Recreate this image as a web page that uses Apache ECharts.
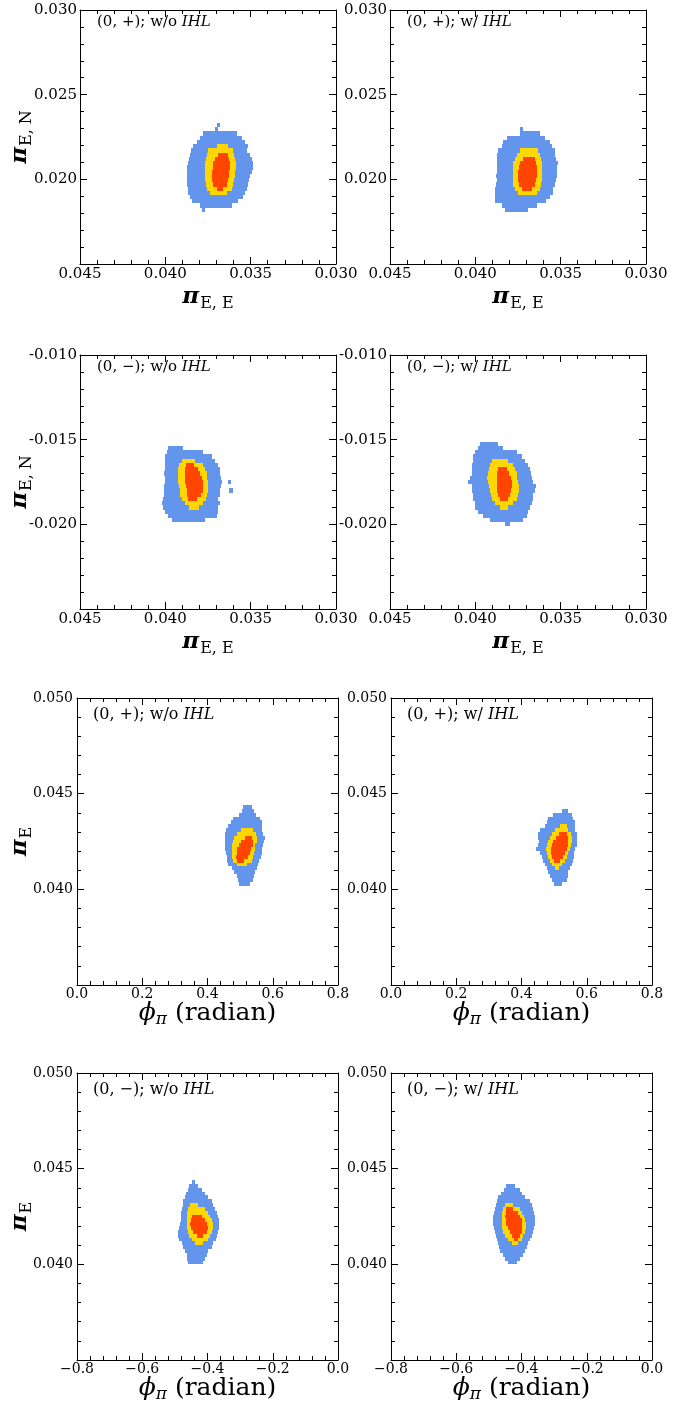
<!DOCTYPE html>
<html>
<head>
<meta charset="utf-8">
<title>Parallax posteriors</title>
<script src="https://cdn.jsdelivr.net/npm/echarts@6/dist/echarts.min.js"></script>
<style>
  html, body { margin: 0; padding: 0; background: #fff; }
  #chart { width: 694px; height: 1409px; }
</style>
</head>
<body>
<div id="chart"></div>
<script>
'use strict';

/* Tick values of the axes */
const enTicksX = [0.045, 0.040, 0.035, 0.030];
const enPlusTicksY = [0.015, 0.020, 0.025, 0.030];
const enMinusTicksY = [-0.025, -0.020, -0.015, -0.010];
const phiPlusTicksX = [0.0, 0.2, 0.4, 0.6, 0.8];
const phiMinusTicksX = [-0.8, -0.6, -0.4, -0.2, 0.0];
const piETicksY = [0.035, 0.040, 0.045, 0.050];

/* Posterior cells, one row per entry: [y, x at one end, x at other end].
   blue = 3 sigma, yellow = 2 sigma, red = 1 sigma */

// (0,+) w/o IHL, pi_E,N vs pi_E,E
const enPlusWoBlue = [
  [0.02320, 0.03700, 0.03680], [0.02295, 0.03709, 0.03690], [0.02270, 0.03778, 0.03582],
  [0.02245, 0.03797, 0.03553], [0.02220, 0.03817, 0.03534], [0.02195, 0.03840, 0.03514],
  [0.02170, 0.03852, 0.03520], [0.02145, 0.03856, 0.03504], [0.02120, 0.03860, 0.03495],
  [0.02095, 0.03866, 0.03489], [0.02070, 0.03871, 0.03489], [0.02045, 0.03875, 0.03495],
  [0.02020, 0.03875, 0.03504], [0.01995, 0.03871, 0.03508], [0.01970, 0.03875, 0.03514],
  [0.01945, 0.03866, 0.03520], [0.01920, 0.03866, 0.03534], [0.01895, 0.03856, 0.03547],
  [0.01870, 0.03846, 0.03573], [0.01845, 0.03797, 0.03612], [0.01820, 0.03787, 0.03768]
];
const enPlusWoYellow = [
  [0.02195, 0.03700, 0.03631], [0.02170, 0.03748, 0.03602], [0.02145, 0.03758, 0.03596],
  [0.02120, 0.03762, 0.03592], [0.02095, 0.03768, 0.03588], [0.02070, 0.03768, 0.03588],
  [0.02045, 0.03768, 0.03592], [0.02020, 0.03768, 0.03592], [0.01995, 0.03768, 0.03596],
  [0.01970, 0.03762, 0.03602], [0.01945, 0.03754, 0.03612], [0.01920, 0.03739, 0.03641]
];
const enPlusWoRed = [
  [0.02145, 0.03690, 0.03631], [0.02120, 0.03709, 0.03625], [0.02095, 0.03719, 0.03621],
  [0.02070, 0.03723, 0.03621], [0.02045, 0.03725, 0.03625], [0.02020, 0.03725, 0.03625],
  [0.01995, 0.03725, 0.03631], [0.01970, 0.03719, 0.03641], [0.01945, 0.03700, 0.03661]
];

// (0,+) w/ IHL
const enPlusWBlue = [
  [0.02295, 0.03738, 0.03719], [0.02270, 0.03738, 0.03621], [0.02245, 0.03816, 0.03592],
  [0.02220, 0.03836, 0.03562], [0.02195, 0.03845, 0.03553], [0.02170, 0.03865, 0.03533],
  [0.02145, 0.03875, 0.03533], [0.02120, 0.03875, 0.03527], [0.02095, 0.03875, 0.03513],
  [0.02070, 0.03875, 0.03519], [0.02045, 0.03875, 0.03519], [0.02020, 0.03879, 0.03523],
  [0.01995, 0.03875, 0.03527], [0.01970, 0.03879, 0.03533], [0.01945, 0.03885, 0.03543],
  [0.01920, 0.03885, 0.03547], [0.01895, 0.03885, 0.03562], [0.01870, 0.03885, 0.03586],
  [0.01845, 0.03845, 0.03640], [0.01820, 0.03826, 0.03689]
];
const enPlusWYellow = [
  [0.02170, 0.03738, 0.03631], [0.02145, 0.03758, 0.03621], [0.02120, 0.03767, 0.03617],
  [0.02095, 0.03777, 0.03611], [0.02070, 0.03781, 0.03611], [0.02045, 0.03781, 0.03611],
  [0.02020, 0.03781, 0.03611], [0.01995, 0.03781, 0.03611], [0.01970, 0.03777, 0.03617],
  [0.01945, 0.03767, 0.03621], [0.01920, 0.03748, 0.03640]
];
const enPlusWRed = [
  [0.02120, 0.03719, 0.03650], [0.02095, 0.03738, 0.03644], [0.02070, 0.03742, 0.03640],
  [0.02045, 0.03748, 0.03640], [0.02020, 0.03748, 0.03640], [0.01995, 0.03748, 0.03644],
  [0.01970, 0.03742, 0.03650], [0.01945, 0.03728, 0.03670]
];

// (0,-) w/o IHL
const enMinusWoBlue = [
  [-0.01550, 0.03983, 0.03895], [-0.01575, 0.03992, 0.03777], [-0.01600, 0.04002, 0.03729],
  [-0.01625, 0.04002, 0.03709], [-0.01650, 0.04002, 0.03690], [-0.01675, 0.04002, 0.03680],
  [-0.01700, 0.04008, 0.03680], [-0.01725, 0.04002, 0.03676], [-0.01750, 0.04002, 0.03670],
  [-0.01775, 0.04008, 0.03676], [-0.01800, 0.04008, 0.03680], [-0.01825, 0.04008, 0.03680],
  [-0.01850, 0.04012, 0.03690], [-0.01875, 0.04022, 0.03680], [-0.01900, 0.04012, 0.03690],
  [-0.01925, 0.04002, 0.03690], [-0.01950, 0.03983, 0.03699], [-0.01975, 0.03963, 0.03768],
  [-0.01750, 0.03633, 0.03615], [-0.01800, 0.03627, 0.03606]
];
const enMinusWoYellow = [
  [-0.01625, 0.03904, 0.03826], [-0.01650, 0.03918, 0.03777], [-0.01675, 0.03924, 0.03768],
  [-0.01700, 0.03924, 0.03758], [-0.01725, 0.03924, 0.03754], [-0.01750, 0.03924, 0.03748],
  [-0.01775, 0.03918, 0.03748], [-0.01800, 0.03914, 0.03748], [-0.01825, 0.03914, 0.03754],
  [-0.01850, 0.03904, 0.03762], [-0.01875, 0.03885, 0.03777], [-0.01900, 0.03860, 0.03801]
];
const enMinusWoRed = [
  [-0.01650, 0.03879, 0.03832], [-0.01675, 0.03885, 0.03807], [-0.01700, 0.03885, 0.03797],
  [-0.01725, 0.03885, 0.03787], [-0.01750, 0.03885, 0.03781], [-0.01775, 0.03879, 0.03781],
  [-0.01800, 0.03875, 0.03781], [-0.01825, 0.03875, 0.03793], [-0.01850, 0.03865, 0.03817]
];

// (0,-) w/ IHL
const enMinusWBlue = [
  [-0.01525, 0.03973, 0.03865], [-0.01550, 0.03983, 0.03836], [-0.01575, 0.04002, 0.03758],
  [-0.01600, 0.04016, 0.03729], [-0.01625, 0.04012, 0.03709], [-0.01650, 0.04022, 0.03690],
  [-0.01675, 0.04022, 0.03680], [-0.01700, 0.04022, 0.03676], [-0.01725, 0.04031, 0.03670],
  [-0.01750, 0.04041, 0.03660], [-0.01775, 0.04022, 0.03645], [-0.01800, 0.04022, 0.03651],
  [-0.01825, 0.04012, 0.03660], [-0.01850, 0.04012, 0.03660], [-0.01875, 0.04002, 0.03670],
  [-0.01900, 0.04002, 0.03680], [-0.01925, 0.03983, 0.03690], [-0.01950, 0.03953, 0.03699],
  [-0.01975, 0.03914, 0.03719], [-0.02000, 0.03826, 0.03797]
];
const enMinusWYellow = [
  [-0.01625, 0.03904, 0.03807], [-0.01650, 0.03914, 0.03777], [-0.01675, 0.03918, 0.03768],
  [-0.01700, 0.03924, 0.03758], [-0.01725, 0.03930, 0.03754], [-0.01750, 0.03924, 0.03748],
  [-0.01775, 0.03918, 0.03742], [-0.01800, 0.03914, 0.03742], [-0.01825, 0.03910, 0.03748],
  [-0.01850, 0.03904, 0.03758], [-0.01875, 0.03885, 0.03777], [-0.01900, 0.03856, 0.03807]
];
const enMinusWRed = [
  [-0.01675, 0.03865, 0.03817], [-0.01700, 0.03871, 0.03801], [-0.01725, 0.03875, 0.03793],
  [-0.01750, 0.03875, 0.03787], [-0.01775, 0.03875, 0.03787], [-0.01800, 0.03871, 0.03793],
  [-0.01825, 0.03865, 0.03797], [-0.01850, 0.03856, 0.03807]
];

// (0,+) w/o IHL, pi_E vs phi_pi
const phiPlusWoBlue = [
  [0.0443, 0.510, 0.535], [0.0441, 0.505, 0.543], [0.0439, 0.498, 0.549], [0.0437, 0.479, 0.561],
  [0.0435, 0.471, 0.566], [0.0433, 0.464, 0.566], [0.0431, 0.457, 0.567], [0.0429, 0.454, 0.571],
  [0.0427, 0.454, 0.576], [0.0425, 0.454, 0.574], [0.0423, 0.454, 0.571], [0.0421, 0.454, 0.566],
  [0.0419, 0.457, 0.566], [0.0417, 0.459, 0.563], [0.0415, 0.461, 0.559], [0.0413, 0.464, 0.556],
  [0.0411, 0.474, 0.551], [0.0409, 0.481, 0.547], [0.0407, 0.489, 0.543], [0.0405, 0.495, 0.540],
  [0.0403, 0.498, 0.530]
];
const phiPlusWoYellow = [
  [0.0431, 0.502, 0.538], [0.0429, 0.489, 0.549], [0.0427, 0.481, 0.551], [0.0425, 0.477, 0.551],
  [0.0423, 0.474, 0.547], [0.0421, 0.474, 0.546], [0.0419, 0.474, 0.543], [0.0417, 0.476, 0.538],
  [0.0415, 0.479, 0.535], [0.0413, 0.489, 0.522]
];
const phiPlusWoRed = [
  [0.0427, 0.515, 0.535], [0.0425, 0.504, 0.540], [0.0423, 0.498, 0.538], [0.0421, 0.491, 0.534],
  [0.0419, 0.489, 0.530], [0.0417, 0.487, 0.523], [0.0415, 0.491, 0.512]
];

// (0,+) w/ IHL
const phiPlusWBlue = [
  [0.0441, 0.523, 0.544], [0.0439, 0.498, 0.554], [0.0437, 0.482, 0.559], [0.0435, 0.477, 0.564],
  [0.0433, 0.472, 0.564], [0.0431, 0.457, 0.564], [0.0429, 0.452, 0.569], [0.0427, 0.452, 0.569],
  [0.0425, 0.454, 0.569], [0.0423, 0.452, 0.569], [0.0421, 0.444, 0.564], [0.0419, 0.457, 0.562],
  [0.0417, 0.462, 0.562], [0.0415, 0.467, 0.559], [0.0413, 0.472, 0.554], [0.0411, 0.477, 0.549],
  [0.0409, 0.482, 0.544], [0.0407, 0.487, 0.544], [0.0405, 0.493, 0.538], [0.0403, 0.501, 0.523]
];
const phiPlusWYellow = [
  [0.0433, 0.518, 0.538], [0.0431, 0.503, 0.544], [0.0429, 0.493, 0.552], [0.0427, 0.487, 0.554],
  [0.0425, 0.482, 0.554], [0.0423, 0.477, 0.552], [0.0421, 0.475, 0.549], [0.0419, 0.477, 0.544],
  [0.0417, 0.482, 0.538], [0.0415, 0.487, 0.533], [0.0413, 0.495, 0.523], [0.0411, 0.503, 0.515]
];
const phiPlusWRed = [
  [0.0429, 0.515, 0.538], [0.0427, 0.505, 0.542], [0.0425, 0.498, 0.544], [0.0423, 0.493, 0.542],
  [0.0421, 0.490, 0.538], [0.0419, 0.490, 0.533], [0.0417, 0.495, 0.528], [0.0415, 0.501, 0.518]
];

// (0,-) w/o IHL
const phiMinusWoBlue = [
  [0.0443, -0.449, -0.438], [0.0441, -0.456, -0.428], [0.0439, -0.459, -0.418], [0.0437, -0.466, -0.408],
  [0.0435, -0.469, -0.398], [0.0433, -0.474, -0.387], [0.0431, -0.476, -0.382], [0.0429, -0.479, -0.377],
  [0.0427, -0.482, -0.372], [0.0425, -0.482, -0.367], [0.0423, -0.482, -0.364], [0.0421, -0.484, -0.364],
  [0.0419, -0.486, -0.364], [0.0417, -0.489, -0.367], [0.0415, -0.489, -0.370], [0.0413, -0.486, -0.374],
  [0.0411, -0.479, -0.382], [0.0409, -0.474, -0.387], [0.0407, -0.469, -0.398], [0.0405, -0.464, -0.403],
  [0.0403, -0.464, -0.408], [0.0401, -0.459, -0.413]
];
const phiMinusWoYellow = [
  [0.0431, -0.454, -0.428], [0.0429, -0.459, -0.408], [0.0427, -0.462, -0.398], [0.0425, -0.464, -0.392],
  [0.0423, -0.464, -0.387], [0.0421, -0.464, -0.384], [0.0419, -0.462, -0.384], [0.0417, -0.459, -0.387],
  [0.0415, -0.456, -0.392], [0.0413, -0.449, -0.398], [0.0411, -0.438, -0.413]
];
const phiMinusWoRed = [
  [0.0425, -0.449, -0.418], [0.0423, -0.452, -0.408], [0.0421, -0.454, -0.403], [0.0419, -0.452, -0.398],
  [0.0417, -0.443, -0.401], [0.0415, -0.433, -0.413]
];

// (0,-) w/ IHL
const phiMinusWBlue = [
  [0.0441, -0.446, -0.420], [0.0439, -0.453, -0.405], [0.0437, -0.463, -0.400], [0.0435, -0.471, -0.389],
  [0.0433, -0.476, -0.374], [0.0431, -0.479, -0.369], [0.0429, -0.481, -0.364], [0.0427, -0.483, -0.361],
  [0.0425, -0.486, -0.359], [0.0423, -0.486, -0.359], [0.0421, -0.486, -0.359], [0.0419, -0.483, -0.361],
  [0.0417, -0.481, -0.364], [0.0415, -0.479, -0.369], [0.0413, -0.476, -0.374], [0.0411, -0.471, -0.379],
  [0.0409, -0.469, -0.384], [0.0407, -0.466, -0.389], [0.0405, -0.456, -0.394], [0.0403, -0.451, -0.405],
  [0.0401, -0.440, -0.415]
];
const phiMinusWYellow = [
  [0.0431, -0.451, -0.425], [0.0429, -0.456, -0.405], [0.0427, -0.459, -0.400], [0.0425, -0.461, -0.391],
  [0.0423, -0.461, -0.389], [0.0421, -0.461, -0.387], [0.0419, -0.459, -0.387], [0.0417, -0.456, -0.389],
  [0.0415, -0.451, -0.394], [0.0413, -0.440, -0.400], [0.0411, -0.430, -0.410]
];
const phiMinusWRed = [
  [0.0429, -0.446, -0.425], [0.0427, -0.449, -0.412], [0.0425, -0.451, -0.405], [0.0423, -0.449, -0.400],
  [0.0421, -0.446, -0.398], [0.0419, -0.440, -0.398], [0.0417, -0.435, -0.400], [0.0415, -0.430, -0.405],
  [0.0413, -0.422, -0.412]
];

const BLUE = '#6495ED';
const YELLOW = '#FFD700';
const RED = '#FF4500';
const SERIF = "'DejaVu Serif', serif";

const minus = (s) => s.replace('-', '\u2212');

// Layout of the eight frames (px)
const rowTop = [10, 355, 698, 1073];
const rowH = [254, 254, 287, 287];
const colLeft = [[80, 390], [80, 390], [77, 391], [77, 391]];
const colW = [256, 256, 261, 261];

const panels = [
  { r: 0, c: 0, tag: '(0, +); w/o ', xt: enTicksX, yt: enPlusTicksY, cells: [enPlusWoBlue, enPlusWoYellow, enPlusWoRed] },
  { r: 0, c: 1, tag: '(0, +); w/ ', xt: enTicksX, yt: enPlusTicksY, cells: [enPlusWBlue, enPlusWYellow, enPlusWRed] },
  { r: 1, c: 0, tag: '(0, \u2212); w/o ', xt: enTicksX, yt: enMinusTicksY, cells: [enMinusWoBlue, enMinusWoYellow, enMinusWoRed] },
  { r: 1, c: 1, tag: '(0, \u2212); w/ ', xt: enTicksX, yt: enMinusTicksY, cells: [enMinusWBlue, enMinusWYellow, enMinusWRed] },
  { r: 2, c: 0, tag: '(0, +); w/o ', xt: phiPlusTicksX, yt: piETicksY, cells: [phiPlusWoBlue, phiPlusWoYellow, phiPlusWoRed] },
  { r: 2, c: 1, tag: '(0, +); w/ ', xt: phiPlusTicksX, yt: piETicksY, cells: [phiPlusWBlue, phiPlusWYellow, phiPlusWRed] },
  { r: 3, c: 0, tag: '(0, \u2212); w/o ', xt: phiMinusTicksX, yt: piETicksY, cells: [phiMinusWoBlue, phiMinusWoYellow, phiMinusWoRed] },
  { r: 3, c: 1, tag: '(0, \u2212); w/ ', xt: phiMinusTicksX, yt: piETicksY, cells: [phiMinusWBlue, phiMinusWYellow, phiMinusWRed] }
];

const grids = [];
const xAxes = [];
const yAxes = [];
const series = [];
const graphics = [];

panels.forEach((p, i) => {
  const isEN = p.r < 2;
  const g = { left: colLeft[p.r][p.c], top: rowTop[p.r], width: colW[p.r], height: rowH[p.r] };
  grids.push(g);

  const tickFont = isEN ? 15 : 14;
  const xMin = Math.min(...p.xt), xMax = Math.max(...p.xt);
  const yMin = Math.min(...p.yt), yMax = Math.max(...p.yt);
  const xStep = +Math.abs(p.xt[1] - p.xt[0]).toFixed(6);
  const yStep = +Math.abs(p.yt[1] - p.yt[0]).toFixed(6);
  const dy = isEN ? 0.00025 : 0.0002;

  const axisCommon = {
    type: 'value',
    gridIndex: i,
    axisLine: { show: true, onZero: false, lineStyle: { color: '#000', width: 1 } },
    axisTick: { show: true, inside: true, length: 7, lineStyle: { color: '#000', width: 1 } },
    minorTick: { show: true, splitNumber: 5, length: 4, lineStyle: { color: '#000', width: 1 } },
    splitLine: { show: false }
  };

  const xFmt = (v) => {
    if (isEN) return v.toFixed(3);
    if (Math.abs(v) < 1e-9) return '0.0';
    return minus(v.toFixed(1));
  };
  const yFmt = (v) => (Math.abs(v - yMin) < 1e-9 ? '' : v.toFixed(3));

  [false, true].forEach((top) => {
    xAxes.push(Object.assign({}, axisCommon, {
      position: top ? 'top' : 'bottom',
      min: xMin, max: xMax, interval: xStep, inverse: isEN,
      axisLabel: {
        show: !top, margin: isEN ? 3 : 2, color: '#000', fontFamily: SERIF, fontSize: tickFont, formatter: xFmt
      }
    }));
    yAxes.push(Object.assign({}, axisCommon, {
      position: top ? 'right' : 'left',
      min: yMin, max: yMax, interval: yStep,
      axisLabel: {
        show: !top, margin: isEN ? 3 : 4, color: '#000', fontFamily: SERIF, fontSize: tickFont, formatter: yFmt
      }
    }));
  });

  const renderRow = (color) => (params, api) => {
    const y = api.value(0);
    const a = api.coord([api.value(1), y + dy / 2]);
    const b = api.coord([api.value(2), y - dy / 2]);
    const x0 = Math.round(Math.min(a[0], b[0]));
    const x1 = Math.round(Math.max(a[0], b[0]));
    const y0 = Math.round(Math.min(a[1], b[1]));
    const y1 = Math.round(Math.max(a[1], b[1]));
    return {
      type: 'rect',
      shape: { x: x0, y: y0, width: Math.max(x1 - x0, 2), height: Math.max(y1 - y0, 1) },
      style: { fill: color }
    };
  };

  [BLUE, YELLOW, RED].forEach((color, k) => {
    series.push({
      type: 'custom',
      xAxisIndex: 2 * i,
      yAxisIndex: 2 * i,
      clip: true,
      silent: true,
      encode: { x: [1, 2], y: 0 },
      renderItem: renderRow(color),
      data: p.cells[k]
    });
  });

  // panel tag
  graphics.push({
    type: 'text',
    x: g.left + (isEN ? 17 : 16),
    y: g.top + (isEN ? 12 : 17),
    style: {
      text: '{a|' + p.tag + '}{b|IHL}',
      verticalAlign: 'middle',
      align: 'left',
      rich: {
        a: { fontFamily: SERIF, fontSize: isEN ? 15 : 16, fill: '#000' },
        b: { fontFamily: SERIF, fontSize: isEN ? 15 : 16, fontStyle: 'italic', fill: '#000' }
      }
    }
  });

  // x title
  const cx = g.left + g.width / 2;
  const bottom = g.top + g.height;
  if (isEN) {
    graphics.push({
      type: 'text', x: cx, y: bottom + 33,
      style: {
        text: '{p|\u03c0}{s|E, E}', align: 'center', verticalAlign: 'middle',
        rich: {
          p: { fontFamily: SERIF, fontSize: 23, fontStyle: 'italic', fontWeight: 'bold', fill: '#000' },
          s: { fontFamily: SERIF, fontSize: 16, fill: '#000', padding: [14, 0, 0, 1] }
        }
      }
    });
  } else {
    graphics.push({
      type: 'text', x: cx, y: bottom + 28,
      style: {
        text: '{p|\u03d5}{s|\u03c0}{r| (radian)}', align: 'center', verticalAlign: 'middle',
        rich: {
          p: { fontFamily: SERIF, fontSize: 25, fontStyle: 'italic', fill: '#000' },
          s: { fontFamily: SERIF, fontSize: 17, fontStyle: 'italic', fill: '#000', padding: [14, 0, 0, 0] },
          r: { fontFamily: SERIF, fontSize: 25, fill: '#000' }
        }
      }
    });
  }

  // y title (left column only)
  if (p.c === 0) {
    graphics.push({
      type: 'text', x: 20, y: g.top + g.height / 2, rotation: Math.PI / 2,
      style: {
        text: isEN ? '{p|\u03c0}{s|E, N}' : '{p|\u03c0}{s|E}', align: 'center', verticalAlign: 'middle',
        rich: {
          p: { fontFamily: SERIF, fontSize: 23, fontStyle: 'italic', fontWeight: 'bold', fill: '#000' },
          s: { fontFamily: SERIF, fontSize: 16, fill: '#000', padding: [14, 0, 0, 1] }
        }
      }
    });
  }
});

const chart = echarts.init(document.getElementById('chart'), null, { renderer: 'canvas' });
chart.setOption({
  animation: false,
  backgroundColor: '#fff',
  grid: grids,
  xAxis: xAxes,
  yAxis: yAxes,
  series: series,
  graphic: graphics
});
</script>
</body>
</html>
